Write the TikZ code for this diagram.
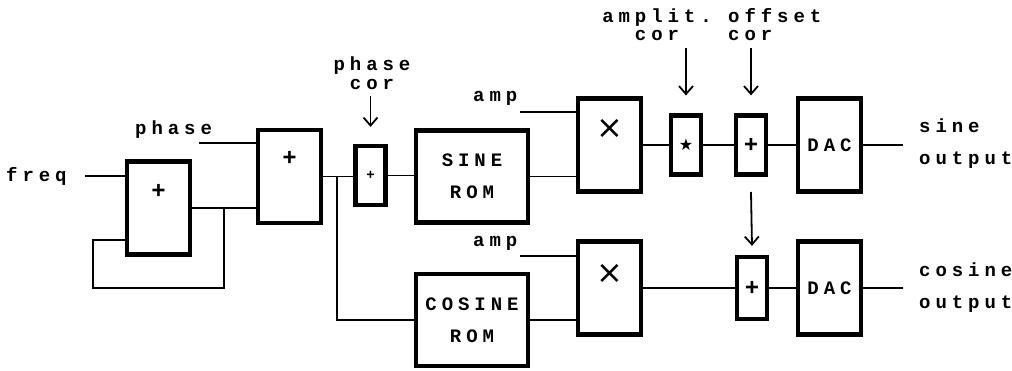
\documentclass[tikz,border=0pt]{standalone}
\usepackage{fontspec}
\usetikzlibrary{arrows.meta}
\newfontfamily\lblfont[LetterSpace=26]{Liberation Mono}
\newfontfamily\symfont{DejaVu Sans}
\newcommand\dlab{\lblfont\bfseries\fontsize{19pt}{32pt}\selectfont}
\newcommand\up[2]{\raisebox{#1}[0pt][0pt]{#2}}
\begin{document}
\begin{tikzpicture}[x=1pt,y=-1pt,
  wire/.style={line width=1.8pt},
  blk/.style={draw, line width=4.2pt, inner sep=0pt, fill=white},
  bigbox/.style={blk, minimum width=63pt, minimum height=93pt},
  smallbox/.style={blk, minimum width=30pt, minimum height=59pt},
  rombox/.style={blk, minimum width=112pt, minimum height=92pt, align=center, font=\dlab},
  txt/.style={inner sep=0pt, font=\dlab},
  plusbig/.style={font=\lblfont\bfseries\fontsize{24pt}{24pt}\selectfont},
  timesf/.style={font=\symfont\fontsize{32pt}{32pt}\selectfont},
  arr/.style={line width=1.8pt, -{Straight Barb[length=8pt,width=14pt]}}]
\useasboundingbox (0,0) rectangle (1012,371);
% blocks
\node[bigbox, plusbig] (acc) at (158.5,208) {\up{9pt}{+}};
\node[bigbox, plusbig] (sum) at (289.5,176.5) {\up{11pt}{+}};
\node[smallbox, font=\lblfont\bfseries\fontsize{14pt}{14pt}\selectfont] (pc) at (370.5,175.5) {+};
\node[rombox] (sinerom) at (472,176.5) {SINE\\ROM};
\node[rombox] (cosrom) at (472,320) {COSINE\\ROM};
\node[bigbox, timesf] (mul1) at (609.5,145) {\up{6pt}{×}};
\node[bigbox, timesf] (mul2) at (609.5,288) {\up{4pt}{×}};
\node[smallbox, font=\symfont\fontsize{16pt}{16pt}\selectfont] (star) at (686,145) {★};
\node[smallbox, plusbig] (off1) at (751,145) {+};
\node[smallbox, plusbig, minimum height=62pt] (off2) at (752,288) {+};
\node[bigbox, font=\dlab] (dac1) at (829.5,145) {DAC};
\node[bigbox, font=\dlab] (dac2) at (829.5,288) {DAC};
% labels
\node[txt, anchor=west] (freq) at (6,176) {freq};
\node[txt, anchor=west] (phase) at (135,130) {phase};
\node[txt, anchor=west] (amp1) at (473,98) {amp};
\node[txt, anchor=west] (amp2) at (473,243) {amp};
\node[txt, anchor=west, align=left] (sout) at (919,144) {sine\\output};
\node[txt, anchor=west, align=left] (cout) at (919,288) {cosine\\output};
\node[txt, align=center, font=\lblfont\bfseries\fontsize{19pt}{19pt}\selectfont] (pcl) at (372,73) {phase\\cor};
\node[txt, align=center, font=\lblfont\bfseries\fontsize{19pt}{18pt}\selectfont] (acl) at (657,25) {amplit.\\cor};
\node[txt, anchor=west, align=left, font=\lblfont\bfseries\fontsize{19pt}{18pt}\selectfont] (ocl) at (728,25) {offset\\cor};
% free ends
\coordinate (freqs) at (85,176);
\coordinate (phs) at (199,143);
\coordinate (fb) at (224,208);
\coordinate (fbb) at (224,288);
\coordinate (fbl) at (93,288);
\coordinate (fbu) at (93,240);
\coordinate (br) at (337,176.5);
\coordinate (a1s) at (520,112);
\coordinate (a2s) at (520,256);
\coordinate (so) at (903,145);
\coordinate (co) at (903,288);
\coordinate (pca) at (370.5,96);
\coordinate (aca) at (686,48);
\coordinate (oca) at (751,48);
\coordinate (dna) at (751,192);
% wires
\draw[wire] (freqs) -- (freqs -| acc.west);
\draw[wire] (acc.east) -- (acc.east -| sum.west);
\draw[wire] (fb) -- (fbb) -- (fbl) -- (fbu) -- (fbu -| acc.west);
\draw[wire] (phs) -- (phs -| sum.west);
\draw[wire] (sum.east) -- (sum.east -| pc.west);
\draw[wire] (br) |- (cosrom.west);
\draw[wire] (pc.east) -- (pc.east -| sinerom.west);
\draw[wire] (sinerom.east) -- (sinerom.east -| mul1.west);
\draw[wire] (a1s) -- (a1s -| mul1.west);
\draw[wire] (a2s) -- (a2s -| mul2.west);
\draw[wire] (cosrom.east) -- (cosrom.east -| mul2.west);
\draw[wire] (mul1.east) -- (star.west);
\draw[wire] (star.east) -- (off1.west);
\draw[wire] (off1.east) -- (dac1.west);
\draw[wire] (dac1.east) -- (so);
\draw[wire] (mul2.east) -- (mul2.east -| off2.west);
\draw[wire] (off2.east) -- (off2.east -| dac2.west);
\draw[wire] (dac2.east) -- (co);
% arrows
\draw[arr] (pca) -- ([yshift=17pt]pc.north);
\draw[arr] (aca) -- ([yshift=18pt]star.north);
\draw[arr] (oca) -- ([yshift=18pt]off1.north);
\draw[arr] (dna) -- ([yshift=9pt]off2.north);
\end{tikzpicture}
\end{document}
